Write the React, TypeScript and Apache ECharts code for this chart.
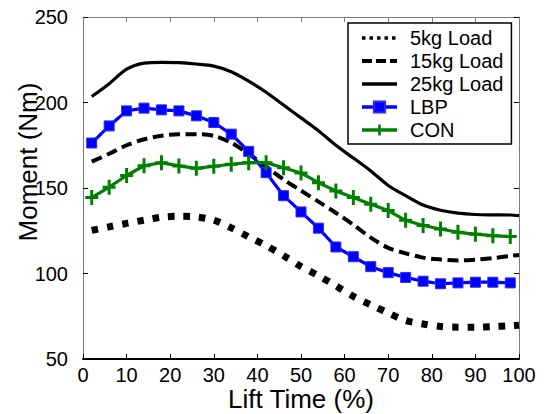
import React, { useEffect, useRef } from "react";
import * as echarts from "echarts";

const markerX = [2, 6, 10, 14, 18, 22, 26, 30, 34, 38, 42, 46, 50, 54, 58, 62, 66, 70, 74, 78, 82, 86, 90, 94, 98];
const loadX = [2, 6, 10, 14, 18, 22, 26, 30, 34, 38, 42, 46, 50, 54, 58, 62, 66, 70, 74, 78, 82, 86, 90, 94, 98, 100];

const load5 = [125.2, 127.3, 129.3, 131.2, 132.9, 133.5, 133.1, 131.2, 126.7, 121.4, 116.3, 110.4, 104.1, 98.7, 92.8, 86.6, 81.7, 76.9, 72.5, 70.5, 69.0, 68.6, 68.6, 69.0, 69.4, 69.8];
const load15 = [165.4, 170.0, 175.0, 178.5, 180.5, 181.5, 181.5, 180.5, 176.5, 170.0, 162.5, 155.0, 148.5, 142.0, 135.5, 128.5, 121.0, 115.0, 111.8, 109.3, 108.2, 107.6, 108.1, 109.0, 110.3, 110.8];
const load25 = [203.5, 211.0, 219.5, 223.0, 223.5, 223.3, 222.5, 221.3, 218.0, 212.5, 206.0, 198.5, 191.0, 183.5, 175.0, 167.5, 160.0, 151.5, 145.5, 140.0, 137.0, 135.3, 134.5, 134.3, 134.2, 133.8];
const lbp = [176.3, 186.3, 195.1, 196.7, 195.7, 195.1, 192.2, 188.3, 181.5, 171.4, 159.0, 145.5, 136.0, 126.5, 115.5, 109.8, 104.0, 100.5, 97.7, 95.5, 94.0, 94.5, 94.9, 94.9, 94.5];
const con = [144.4, 150.5, 157.3, 163.0, 164.8, 162.9, 161.5, 162.7, 163.9, 164.8, 164.8, 161.8, 158.8, 153.1, 148.3, 144.4, 140.5, 136.8, 131.1, 128.1, 126.0, 124.1, 123.0, 122.1, 121.6];

const xTicks = { min: 0, max: 100, interval: 10 };
const yTicks = { min: 50, max: 250, interval: 50 };

const FONT = '"Liberation Sans", Arial, Helvetica, sans-serif';
const PLUS = "path://M5,0 H8 V6 H13 V9 H8 V15 H5 V9 H0 V6 H5 Z";

const pairs = (xs: number[], ys: number[]) => xs.map((x, i) => [x, ys[i]]);

export default function App() {
  const ref = useRef<HTMLDivElement>(null);
  useEffect(() => {
    document.body.style.margin = "0";
    const chart = echarts.init(ref.current!, null, { renderer: "svg" });
    const gray = "#7a7a7a";
    const hidden = { opacity: 0 };
    chart.setOption({
      animation: false,
      backgroundColor: "#ffffff",
      grid: { left: 83, right: 29, top: 17, bottom: 55, containLabel: false, outerBoundsMode: "none" },
      xAxis: [
        {
          type: "value",
          ...xTicks,
          position: "bottom",
          name: "Lift Time (%)",
          nameLocation: "middle",
          nameGap: 27,
          nameMoveOverlap: false,
          nameTextStyle: { fontFamily: FONT, fontSize: 26, lineHeight: 26, color: "#000" },
          axisLine: { onZero: false, lineStyle: { color: "#000", width: 2 } },
          axisTick: { inside: true, length: 5, lineStyle: { color: "#000", width: 1 } },
          axisLabel: { fontFamily: FONT, fontSize: 20, lineHeight: 20, color: "#000", margin: 6 },
          splitLine: { show: false },
        },
        {
          type: "value",
          ...xTicks,
          position: "top",
          axisLine: { onZero: false, lineStyle: { color: gray, width: 1 } },
          axisTick: { inside: true, length: 5, lineStyle: { color: gray, width: 1 } },
          axisLabel: { show: false },
          splitLine: { show: false },
        },
      ],
      yAxis: [
        {
          type: "value",
          ...yTicks,
          position: "left",
          axisLine: { show: true, onZero: false, lineStyle: { color: gray, width: 1 } },
          axisTick: { show: true, inside: true, length: 5, lineStyle: { color: "#000", width: 1 } },
          axisLabel: { fontFamily: FONT, fontSize: 20, color: "#000", margin: 15 },
          splitLine: { show: false },
        },
        {
          type: "value",
          ...yTicks,
          position: "right",
          axisLine: { show: true, onZero: false, lineStyle: { color: gray, width: 1 } },
          axisTick: { show: true, inside: true, length: 5, lineStyle: { color: "#000", width: 1 } },
          axisLabel: { show: false },
          splitLine: { show: false },
        },
      ],
      legend: {
        orient: "vertical",
        left: 348,
        top: 23,
        padding: [5, 8, 4, 12],
        itemWidth: 35,
        itemHeight: 14,
        itemGap: 3,
        borderColor: "#000",
        borderWidth: 1.5,
        borderRadius: 0,
        backgroundColor: "#fff",
        textStyle: { fontFamily: FONT, fontSize: 20, lineHeight: 18, color: "#000", padding: [0, 0, 0, 8] },
        data: [
          { name: "5kg Load", itemStyle: hidden, lineStyle: { type: [3.5, 4], width: 3.5 } },
          { name: "15kg Load", itemStyle: hidden, lineStyle: { type: [10, 4], width: 4 } },
          { name: "25kg Load", itemStyle: hidden, lineStyle: { width: 3.5 } },
          { name: "LBP", lineStyle: { width: 3.5 } },
          { name: "CON", lineStyle: { width: 3.5 } },
        ],
      },
      graphic: [
        {
          type: "text",
          x: 28,
          y: 162,
          rotation: Math.PI / 2,
          style: {
            text: "Moment (Nm)",
            font: `26px ${FONT}`,
            fill: "#000",
            textAlign: "center",
            textVerticalAlign: "middle",
          },
        },
      ],
      series: [
        {
          name: "5kg Load",
          type: "line",
          data: pairs(loadX, load5),
          smooth: 0.3,
          symbol: "none",
          itemStyle: { color: "#000" },
          lineStyle: { color: "#000", width: 7, type: [6.5, 9], cap: "butt" },
        },
        {
          name: "15kg Load",
          type: "line",
          data: pairs(loadX, load15),
          smooth: 0.3,
          symbol: "none",
          itemStyle: { color: "#000" },
          lineStyle: { color: "#000", width: 4, type: [11, 5.5], cap: "butt" },
        },
        {
          name: "25kg Load",
          type: "line",
          data: pairs(loadX, load25),
          smooth: 0.3,
          symbol: "none",
          itemStyle: { color: "#000" },
          lineStyle: { color: "#000", width: 3.2 },
        },
        {
          name: "LBP",
          type: "line",
          data: pairs(markerX, lbp),
          symbol: "rect",
          symbolSize: 10,
          itemStyle: { color: "#0000ff", borderColor: "#2b2bff", borderWidth: 1 },
          lineStyle: { color: "#0000ff", width: 3.2 },
        },
        {
          name: "CON",
          type: "line",
          data: pairs(markerX, con),
          symbol: PLUS,
          symbolSize: [13, 15],
          itemStyle: { color: "#008000" },
          lineStyle: { color: "#008000", width: 3.2 },
        },
      ],
    });
    return () => chart.dispose();
  }, []);
  return <div ref={ref} style={{ width: 548, height: 414, position: "absolute", left: 0, top: 0 }} />;
}
